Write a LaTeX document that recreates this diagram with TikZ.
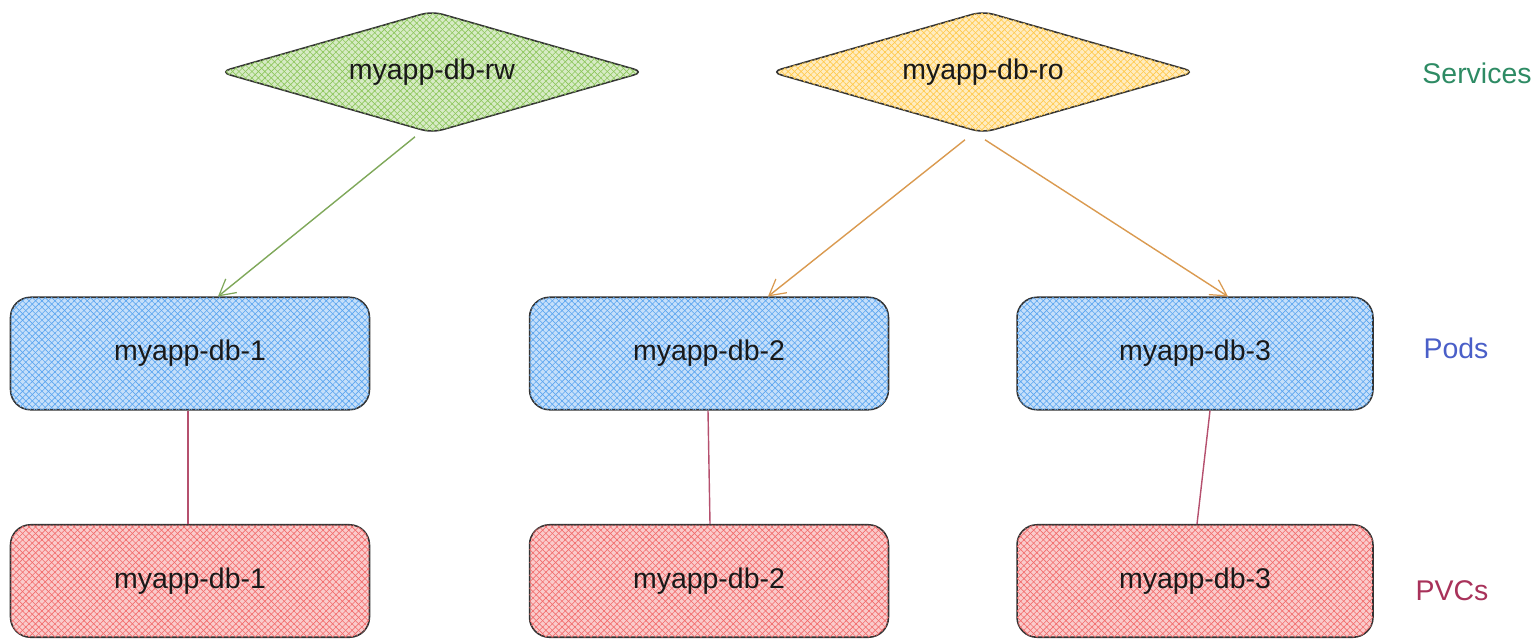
\documentclass[tikz,border=0pt]{standalone}
\usepackage{fontspec}
\setmainfont{Liberation Sans}
\usetikzlibrary{shapes.geometric,arrows.meta,patterns.meta}
\definecolor{gHatch}{HTML}{8CC65A}
\definecolor{yHatch}{HTML}{FFC94A}
\definecolor{bHatch}{HTML}{5AA5F0}
\definecolor{rHatch}{HTML}{F26B6B}
\definecolor{gEdge}{HTML}{7FA85A}
\definecolor{oEdge}{HTML}{DA9A50}
\definecolor{mEdge}{HTML}{B5506E}
\definecolor{svcText}{HTML}{2E8B64}
\definecolor{podText}{HTML}{4A5FC8}
\definecolor{pvcText}{HTML}{A8325A}
\definecolor{outline}{HTML}{333333}
\tikzset{
  hatched/.style={
    fill=#1!35,
    postaction={pattern={Lines[angle=45,distance=2.6pt,line width=0.35pt]},pattern color=#1},
    postaction={pattern={Lines[angle=-45,distance=2.6pt,line width=0.35pt]},pattern color=#1}},
  lbl/.style={font=\fontsize{16.2}{19}\selectfont, text=black!90},
  svc/.style={lbl, shape=diamond, shape aspect=3.48, draw=outline, line width=0.9pt, rounded corners=6pt,
    minimum width=8.5cm, minimum height=2.44cm, inner sep=0pt},
  box/.style={lbl, shape=rectangle, draw=outline, line width=0.9pt, rounded corners=0.4cm,
    minimum width=7.18cm, minimum height=2.25cm, inner sep=0pt},
  arr/.style={line width=0.8pt, -{Straight Barb[length=9pt,width=10pt,line width=0.7pt]}},
  link/.style={line width=0.8pt, draw=mEdge},
  layer/.style={font=\fontsize{16.2}{19}\selectfont}
}
\begin{document}
\begin{tikzpicture}[x=0.02cm,y=-0.02cm]
\useasboundingbox (0,0) rectangle (1537,640);
\node[svc, hatched=gHatch] (rw) at (432,72) {myapp-db-rw};
\node[svc, hatched=yHatch] (ro) at (983,72) {myapp-db-ro};
\node[box, hatched=bHatch] (pod1) at (190,353.5) {myapp-db-1};
\node[box, hatched=bHatch] (pod2) at (709,353.5) {myapp-db-2};
\node[box, hatched=bHatch, minimum width=7.12cm] (pod3) at (1195,353.5) {myapp-db-3};
\node[box, hatched=rHatch] (pvc1) at (190,581) {myapp-db-1};
\node[box, hatched=rHatch] (pvc2) at (709,581) {myapp-db-2};
\node[box, hatched=rHatch, minimum width=7.12cm] (pvc3) at (1195,581) {myapp-db-3};
\node[layer, text=svcText] (lsvc) at (1477,73) {Services};
\node[layer, text=podText] (lpod) at (1456,348) {Pods};
\node[layer, text=pvcText] (lpvc) at (1452,591) {PVCs};
\draw[arr, draw=gEdge] ([xshift=-0.34cm,yshift=-0.06cm]rw.south) -- ([xshift=0.56cm]pod1.north);
\draw[arr, draw=oEdge] ([xshift=-0.36cm,yshift=-0.12cm]ro.south) -- ([xshift=1.18cm]pod2.north);
\draw[arr, draw=oEdge] ([xshift=0.04cm,yshift=-0.12cm]ro.south) -- ([xshift=0.66cm]pod3.north);
\draw[link] ([xshift=-0.04cm]pod1.south) -- ([xshift=-0.04cm]pvc1.north);
\draw[link] ([xshift=-0.02cm]pod2.south) -- ([xshift=0.02cm]pvc2.north);
\draw[link] ([xshift=0.3cm]pod3.south) -- ([xshift=0.04cm]pvc3.north);
\end{tikzpicture}
\end{document}
